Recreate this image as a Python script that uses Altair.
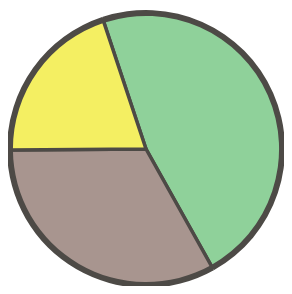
import altair as alt
import pandas as pd
import math

categories = ["A", "B", "C"]
values = [47, 33, 20]
colors = ["#8fd19a", "#a8958f", "#f4ef62"]

df = pd.DataFrame({"cat": categories, "value": values, "ord": [0, 1, 2]})

start = math.radians(-18.4)
theta_scale = alt.Scale(range=[start, start + 2 * math.pi])

pie = alt.Chart(df).mark_arc(stroke="#4d4a46", strokeWidth=3.5, radius=138).encode(
    theta=alt.Theta("value:Q", stack=True, scale=theta_scale),
    color=alt.Color("cat:N", scale=alt.Scale(domain=categories, range=colors), legend=None),
    order=alt.Order("ord:Q"),
)

ring = alt.Chart(df).mark_arc(
    radius=141, radius2=135, color="#4d4a46", strokeWidth=0
).encode(
    theta=alt.Theta("value:Q", stack=True, scale=theta_scale),
    order=alt.Order("ord:Q"),
)

chart = alt.layer(pie, ring).properties(
    width=280, height=278,
    padding={"top": 4, "bottom": 0, "left": 0, "right": 0},
    autosize=alt.AutoSizeParams(type="fit", contains="padding"),
).configure_view(stroke=None)

chart.save("out.html", embed_options={"renderer": "svg", "actions": False})
